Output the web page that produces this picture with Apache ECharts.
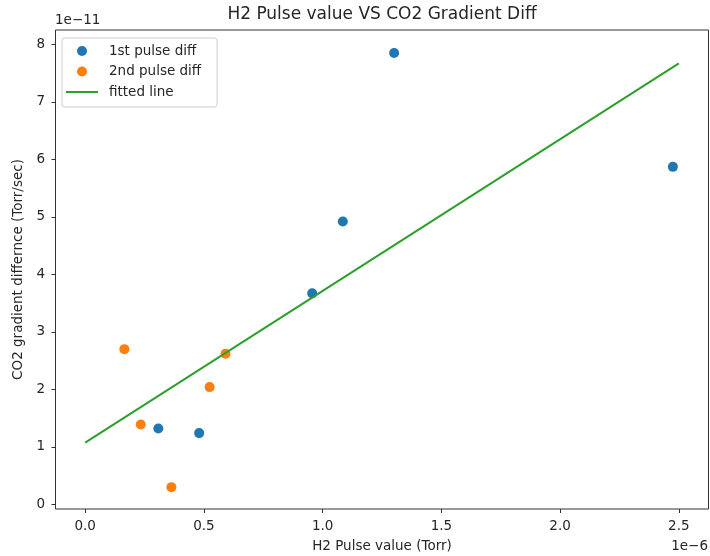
<!DOCTYPE html>
<html>
<head>
<meta charset="utf-8">
<script src="https://cdn.jsdelivr.net/npm/echarts@6/dist/echarts.min.js"></script>
<style>
  html, body { margin: 0; padding: 0; background: #fff; }
  #chart { width: 710px; height: 556px; }
</style>
</head>
<body>
<div id="chart"></div>
<script>
// H2 pulse value (units of 1e-6 Torr) and CO2 gradient difference (units of 1e-11 Torr/sec)
const firstPulseX = [1.301, 2.475, 1.085, 0.956, 0.308, 0.480];
const firstPulseY = [7.85, 5.87, 4.92, 3.67, 1.32, 1.24];
const secondPulseX = [0.165, 0.591, 0.524, 0.234, 0.363];
const secondPulseY = [2.70, 2.62, 2.04, 1.39, 0.30];
const fitLineX = [0, 2.5];
const fitLineY = [1.075, 7.67];
const xTicks = [0, 0.5, 1.0, 1.5, 2.0, 2.5];
const yTicks = [0, 1, 2, 3, 4, 5, 6, 7, 8];

const pairs = (xs, ys) => xs.map((x, i) => [x, ys[i]]);

const FONT = 'DejaVu Sans';
const TEXT = '#262626';
const FS = 13.5;
const BLUE = '#1f77b4', ORANGE = '#ff7f0e', GREEN = '#2ca02c';

const GRID = { left: 55.5, right: 1.5, top: 30, bottom: 47 };
const plotCenterX = GRID.left + (710 - GRID.left - GRID.right) / 2;

const chart = echarts.init(document.getElementById('chart'), null, { renderer: 'canvas' });

chart.setOption({
  animation: false,
  backgroundColor: '#fff',
  textStyle: { fontFamily: FONT },
  grid: Object.assign({}, GRID, {
    outerBoundsMode: 'none', containLabel: false,
    show: true, borderColor: '#333', borderWidth: 1, backgroundColor: 'transparent'
  }),
  legend: {
    orient: 'vertical',
    left: 62, top: 38,
    padding: [5, 16, 7, 4],
    itemWidth: 32, itemHeight: 10, itemGap: 4.5,
    symbolKeepAspect: true,
    borderColor: '#ccc', borderWidth: 1, borderRadius: 3,
    backgroundColor: 'rgba(255,255,255,0.8)',
    textStyle: { fontFamily: FONT, fontSize: FS, color: TEXT, lineHeight: 16, padding: [0, 0, 0, 6] },
    data: [
      { name: '1st pulse diff', icon: 'circle' },
      { name: '2nd pulse diff', icon: 'circle' },
      { name: 'fitted line', icon: 'path://M0,0L32,0L32,2L0,2Z' }
    ]
  },
  xAxis: {
    type: 'value',
    min: -0.125, max: 2.625,
    name: 'H2 Pulse value (Torr)',
    nameLocation: 'middle', nameGap: 30,
    nameTextStyle: { fontFamily: FONT, fontSize: FS, color: TEXT },
    axisLine: { show: false, onZero: false },
    axisTick: { show: true, length: 4, lineStyle: { color: '#333' }, customValues: xTicks },
    axisLabel: {
      fontFamily: FONT, fontSize: FS, color: TEXT, margin: 10,
      customValues: xTicks,
      formatter: v => v.toFixed(1)
    },
    splitLine: { show: false }
  },
  yAxis: {
    type: 'value',
    min: -0.08, max: 8.25,
    name: 'CO2 gradient differnce (Torr/sec)',
    nameLocation: 'middle', nameGap: 27, nameRotate: 90,
    nameTextStyle: { fontFamily: FONT, fontSize: FS, color: TEXT },
    axisLine: { show: false, onZero: false },
    axisTick: { show: true, length: 4, lineStyle: { color: '#333' }, customValues: yTicks },
    axisLabel: {
      fontFamily: FONT, fontSize: FS, color: TEXT, margin: 10.5,
      customValues: yTicks,
      formatter: v => String(Math.round(v))
    },
    splitLine: { show: false }
  },
  graphic: [
    {
      type: 'text', x: plotCenterX, y: 6,
      style: { text: 'H2 Pulse value VS CO2 Gradient Diff', font: '17px "DejaVu Sans"', fill: TEXT, textAlign: 'center' }
    },
    {
      type: 'text', left: 55, top: 13,
      style: { text: '1e\u221211', font: FS + 'px "DejaVu Sans"', fill: TEXT }
    },
    {
      type: 'text', right: 2, top: 539,
      style: { text: '1e\u22126', font: FS + 'px "DejaVu Sans"', fill: TEXT }
    }
  ],
  series: [
    {
      name: '1st pulse diff', type: 'scatter',
      data: pairs(firstPulseX, firstPulseY),
      symbolSize: 10, itemStyle: { color: BLUE, opacity: 1 }, z: 2
    },
    {
      name: '2nd pulse diff', type: 'scatter',
      data: pairs(secondPulseX, secondPulseY),
      symbolSize: 10, itemStyle: { color: ORANGE, opacity: 1 }, z: 2
    },
    {
      name: 'fitted line', type: 'line',
      data: pairs(fitLineX, fitLineY),
      showSymbol: false, symbol: 'none',
      lineStyle: { color: GREEN, width: 2 }, itemStyle: { color: GREEN }, z: 3
    }
  ]
});
</script>
</body>
</html>
